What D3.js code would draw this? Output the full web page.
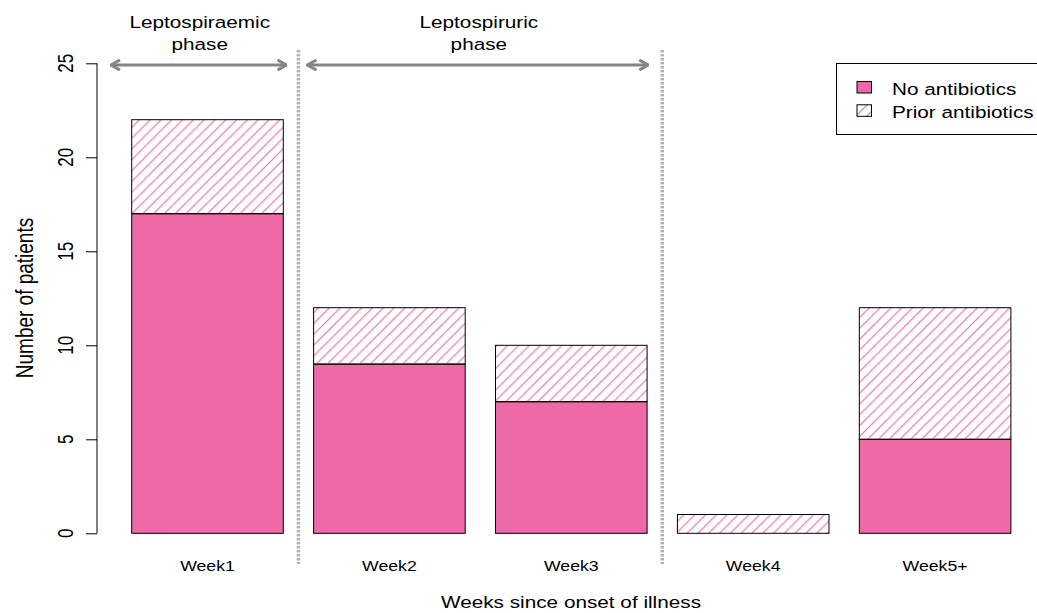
<!DOCTYPE html>
<html><head><meta charset="utf-8">
<script src="https://cdn.jsdelivr.net/npm/d3@7"></script>
<style>body{margin:0;background:#fff}svg{font-family:"Liberation Sans",Arial,sans-serif}</style>
</head><body><svg id="c" width="1037" height="613"></svg>
<script>
const categories = ["Week1","Week2","Week3","Week4","Week5+"];
const noAntibiotics = [17, 9, 7, 0, 5];
const priorAntibiotics = [5, 3, 3, 1, 7];
const yTicks = [0, 5, 10, 15, 20, 25];
const seriesNames = ["No antibiotics", "Prior antibiotics"];
const phases = [{label:["Leptospiraemic","phase"]}, {label:["Leptospiruric","phase"]}];

const pink = "#EE6AA7";
const KX = 1.22; // horizontal stretch of glyphs seen in the reference
const svg = d3.select("#c");
const defs = svg.append("defs");
const hs = 10.8;
const pat = defs.append("pattern").attr("id","hatch").attr("patternUnits","userSpaceOnUse")
  .attr("width",hs).attr("height",hs);
pat.append("path").attr("d",`M0,${hs} L${hs},0 M${-hs/2},${hs/2} L${hs/2},${-hs/2} M${hs/2},${hs*1.5} L${hs*1.5},${hs/2}`)
  .attr("stroke",pink).attr("stroke-width",1.15).attr("fill","none");

function htext(x0, y0, t, size, anchor) {
  return svg.append("text").attr("transform",`translate(${x0},${y0}) scale(${KX},1)`)
    .attr("text-anchor",anchor||"middle").attr("font-size",size).attr("fill","#000").text(t);
}
function vtext(x0, y0, t, size, k) {
  return svg.append("text").attr("transform",`translate(${x0},${y0}) scale(${k},1) rotate(-90)`)
    .attr("text-anchor","middle").attr("font-size",size).attr("fill","#000").text(t);
}

const x = d3.scaleBand().domain(categories).range([131.7, 1010.9]).paddingInner(1/6).paddingOuter(0);
const y = d3.scaleLinear().domain([0,25]).range([533.3, 63.3]);

// y axis
const ya = svg.append("g").attr("transform","translate(97,0)")
  .call(d3.axisLeft(y).tickValues(yTicks).tickSize(11).tickFormat(""));
ya.select(".domain").attr("d",`M0,${y(0)}V${y(25)}`).attr("stroke","#000");
ya.selectAll(".tick line").attr("stroke","#000");
yTicks.forEach(v => vtext(73, y(v), d3.format("d")(v), 17, 1.3));

// bars
const g = svg.append("g");
categories.forEach((c,i)=>{
  const x0 = x(c), w = x.bandwidth();
  const a = noAntibiotics[i], b = priorAntibiotics[i];
  if (a > 0) g.append("rect").attr("x",x0).attr("y",y(a)).attr("width",w).attr("height",y(0)-y(a))
    .attr("fill",pink).attr("stroke","#000").attr("stroke-width",1);
  g.append("rect").attr("x",x0).attr("y",y(a+b)).attr("width",w).attr("height",y(a)-y(a+b))
    .attr("fill","url(#hatch)").attr("stroke","#000").attr("stroke-width",1);
});

// x labels
categories.forEach(c => htext(x(c)+x.bandwidth()/2, 571, c, 14.5));

// divider lines
const gap = x.step() - x.bandwidth();
const dividers = [1,3].map(k => x(categories[k]) - gap/2);
dividers.forEach(xv=>{
  svg.append("line").attr("x1",xv).attr("x2",xv).attr("y1",50).attr("y2",564)
    .attr("stroke","#b3b3b3").attr("stroke-width",3.5).attr("stroke-dasharray","2.5,1.5");
});

// arrows
const mk = defs.append("marker").attr("id","ah").attr("viewBox","0 0 12 12").attr("refX",11).attr("refY",6)
  .attr("markerWidth",12).attr("markerHeight",12).attr("markerUnits","userSpaceOnUse").attr("orient","auto-start-reverse");
mk.append("path").attr("d","M2,1 L11,6 L2,11").attr("fill","none").attr("stroke","#858585").attr("stroke-width",3);
const arrowEnds = [[111, dividers[0]-12], [dividers[0]+9, dividers[1]-14]];
phases.forEach((p,i)=>{
  const [xa, xb] = arrowEnds[i];
  svg.append("line").attr("x1",xa).attr("x2",xb).attr("y1",65).attr("y2",65)
    .attr("stroke","#858585").attr("stroke-width",3)
    .attr("marker-start","url(#ah)").attr("marker-end","url(#ah)");
  const cx = (xa+xb)/2 + 1;
  p.label.forEach((t,j)=> htext(cx, 28+j*22, t, 17));
});

// axis titles
htext(571, 608, "Weeks since onset of illness", 17);
vtext(33, 298, "Number of patients", 19, 1.3);

// legend
svg.append("rect").attr("x",836.5).attr("y",63.5).attr("width",220).attr("height",71)
  .attr("fill","#fff").attr("stroke","#000").attr("stroke-width",1);
const fills = [pink, "url(#hatch)"];
seriesNames.forEach((s,i)=>{
  const cy = 87.5 + i*23.3;
  svg.append("rect").attr("x",857).attr("y",cy-6).attr("width",14.5).attr("height",11.5)
    .attr("fill",fills[i]).attr("stroke","#000").attr("stroke-width",1);
  htext(892, 95 + i*23.3, s, 17, "start");
});
</script></body></html>
